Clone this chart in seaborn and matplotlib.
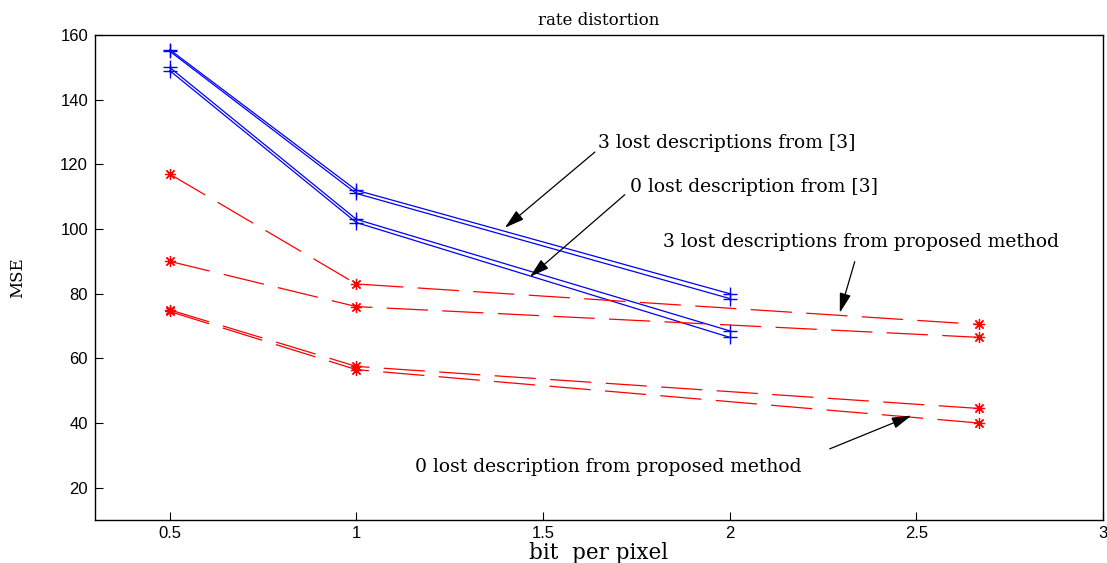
import numpy as np
import pandas as pd
import matplotlib
matplotlib.use('Agg')
import matplotlib.pyplot as plt
import seaborn as sns

# data
x_ref = [0.5, 1, 2]
ref_3lost_a = [155.5, 112, 80]
ref_3lost_b = [155, 111, 78.5]
ref_0lost_a = [150, 103, 68.5]
ref_0lost_b = [149, 102, 66.5]

x_prop = [0.5, 1, 8 / 3]
prop_3lost_a = [117, 83, 70.5]
prop_3lost_b = [90, 76, 66.5]
prop_0lost_a = [75, 57.5, 44.5]
prop_0lost_b = [74.5, 56.5, 40]

series = {
    'ref 3 lost a': (x_ref, ref_3lost_a),
    'ref 3 lost b': (x_ref, ref_3lost_b),
    'ref 0 lost a': (x_ref, ref_0lost_a),
    'ref 0 lost b': (x_ref, ref_0lost_b),
    'prop 3 lost a': (x_prop, prop_3lost_a),
    'prop 3 lost b': (x_prop, prop_3lost_b),
    'prop 0 lost a': (x_prop, prop_0lost_a),
    'prop 0 lost b': (x_prop, prop_0lost_b),
}
rows = []
for name, (xs, ys) in series.items():
    for xv, yv in zip(xs, ys):
        rows.append({'series': name, 'bpp': xv, 'mse': yv})
df = pd.DataFrame(rows)

sns.set_style('white')
plt.rcParams['font.family'] = ['DejaVu Serif']
plt.rcParams.update({'text.color': 'black', 'axes.labelcolor': 'black',
                     'xtick.color': 'black', 'ytick.color': 'black',
                     'xtick.bottom': True, 'ytick.left': True,
                     'xtick.direction': 'in', 'ytick.direction': 'in',
                     'xtick.major.size': 6, 'ytick.major.size': 6,
                     'xtick.major.width': 0.8, 'ytick.major.width': 0.8})

fig = plt.figure(figsize=(11.07, 5.63), dpi=100)
ax = fig.add_axes([0.0858, 0.0764, 0.9106, 0.8614])

for name, grp in df.groupby('series', sort=False):
    if name.startswith('ref'):
        sns.lineplot(data=grp, x='bpp', y='mse', ax=ax, color='blue', lw=0.9,
                     marker='+', markersize=10, markeredgewidth=1.0,
                     markeredgecolor='blue')
    else:
        sns.lineplot(data=grp, x='bpp', y='mse', ax=ax, color='red', lw=0.9,
                     marker=(8, 2, 0), markersize=8, markeredgewidth=0.9,
                     markeredgecolor='red', dashes=(33, 11.5))

ax.set_xlim(0.3, 3)
ax.set_ylim(10, 160)
ax.set_xticks([0.5, 1, 1.5, 2, 2.5, 3])
ax.set_xticklabels(['0.5', '1', '1.5', '2', '2.5', '3'])
ax.set_yticks([20, 40, 60, 80, 100, 120, 140, 160])
for lab in ax.get_xticklabels() + ax.get_yticklabels():
    lab.set_fontfamily('Liberation Sans')
    lab.set_fontsize(12)
ax.tick_params(which='major', direction='in', length=6, width=0.8, colors='black',
               bottom=True, left=True, top=False, right=False, pad=5)
ax.tick_params(axis='x', pad=4)
for sp in ax.spines.values():
    sp.set_linewidth(1.0)
    sp.set_color('black')

ax.set_title('rate distortion', fontsize=12, pad=7, color='black')
ax.set_xlabel('bit  per pixel', fontsize=15.5, va='top')
ax.xaxis.set_label_coords(0.5, -0.045)
ax.set_ylabel('MSE', fontsize=12)
ax.yaxis.set_label_coords(-0.068, 0.5)

arrow = dict(arrowstyle='-|>,head_length=1.2,head_width=0.35', color='black',
             lw=0.9, shrinkA=0, shrinkB=0)
fs = 13.5
ax.text(1.647, 126.6, '3 lost descriptions from [3]', fontsize=fs, va='center', ha='left')
ax.annotate('', xy=(1.398, 100.4), xytext=(1.639, 123.8), arrowprops=arrow)
ax.text(1.732, 113, '0 lost description from [3]', fontsize=fs, va='center', ha='left')
ax.annotate('', xy=(1.465, 85.2), xytext=(1.719, 110.6), arrowprops=arrow)
ax.text(1.821, 96, '3 lost descriptions from proposed method', fontsize=fs, va='center', ha='left')
ax.annotate('', xy=(2.295, 74.1), xytext=(2.335, 89.9), arrowprops=arrow)
ax.text(1.157, 26.5, '0 lost description from proposed method', fontsize=fs, va='center', ha='left')
ax.annotate('', xy=(2.487, 42.3), xytext=(2.268, 32), arrowprops=arrow)

fig.savefig('out.png', dpi=100)
